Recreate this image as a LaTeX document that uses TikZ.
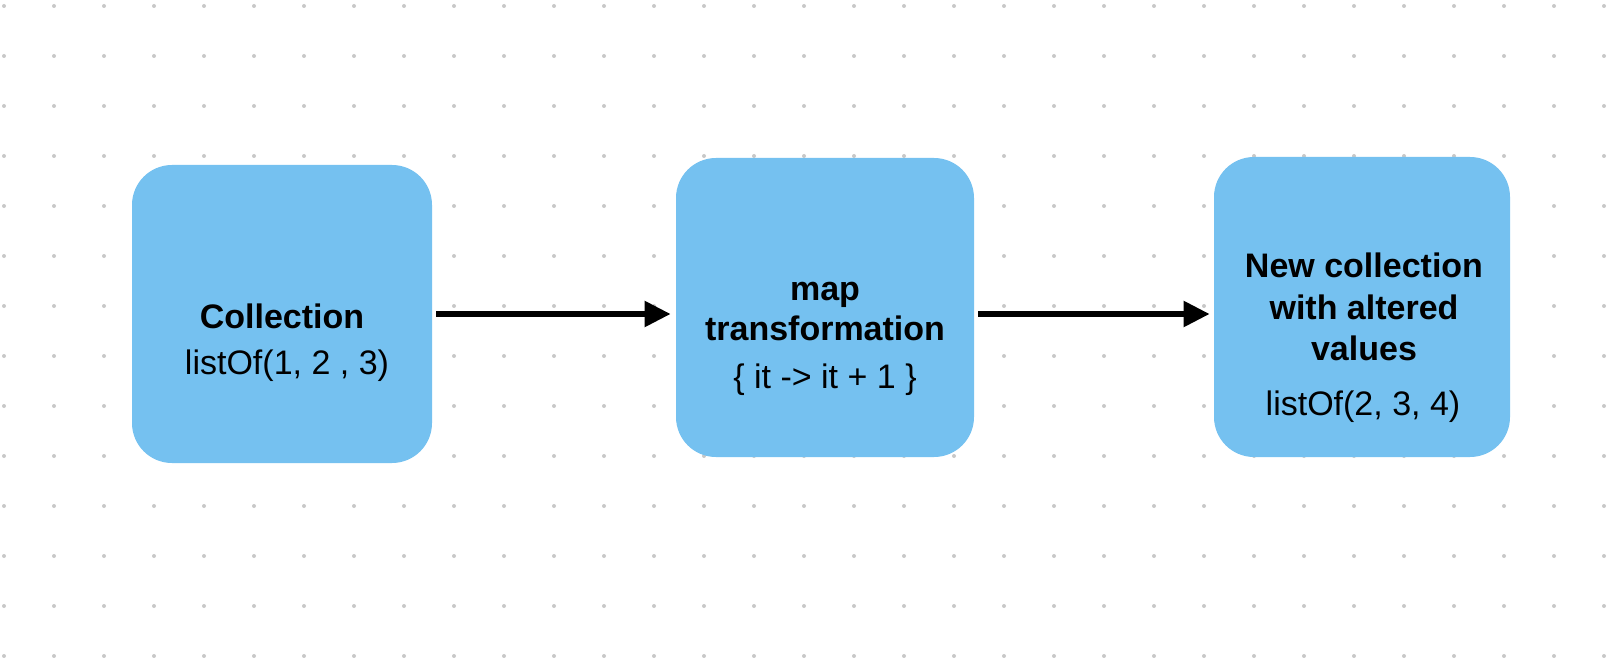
\documentclass[tikz,border=0pt]{standalone}
\usepackage{fontspec}
\setmainfont{Liberation Sans}
\usetikzlibrary{arrows.meta}
\definecolor{boxblue}{RGB}{117,193,240}
\definecolor{dotgray}{RGB}{200,200,200}
\begin{document}
\begin{tikzpicture}[x=0.5pt,y=-0.5pt,
  box/.style={fill=boxblue, rounded corners=20pt, draw=none, inner sep=0pt},
  title/.style={anchor=base, font=\fontsize{17pt}{20pt}\selectfont\bfseries, inner sep=0pt},
  code/.style={anchor=base, font=\fontsize{17pt}{20pt}\selectfont, inner sep=0pt},
  link/.style={line width=2.75pt, -{Triangle[length=13pt,width=12.5pt]}}]
\useasboundingbox (0,0) rectangle (1618,658);
\fill[white] (0,0) rectangle (1618,658);
\foreach \i in {0,...,32}{\foreach \j in {0,...,13}{\fill[dotgray] (4+50*\i,6+50*\j) circle (1pt);}}
% boxes
\node[box, minimum width=150pt, minimum height=149pt] (b1) at (282,314) {};
\node[box, minimum width=149pt, minimum height=149.5pt] (b2) at (825,307.5) {};
\node[box, minimum width=148pt, minimum height=150pt] (b3) at (1362,307) {};
% texts
\node[title] (t1a) at (282,328) {Collection};
\node[code] (t1b) at (287,374) {listOf(1, 2 , 3)};
\node[title] (t2a) at (825,300) {map};
\node[title] (t2b) at (825,340) {transformation};
\node[code] (t2c) at (825,388) {\{ it -> it + 1 \}};
\node[title] (t3a) at (1364,278) {New collection};
\node[title] (t3b) at (1364,319) {with altered};
\node[title] (t3c) at (1364,360) {values};
\node[code] (t3d) at (1363,415) {listOf(2, 3, 4)};
% connectors
\draw[link, shorten <=2pt, shorten >=2.5pt] (b1.east) -- (b2.west |- b1.east);
\draw[link, shorten <=2pt, shorten >=2pt] (b2.east |- b1.east) -- (b3.west |- b1.east);
\end{tikzpicture}
\end{document}
